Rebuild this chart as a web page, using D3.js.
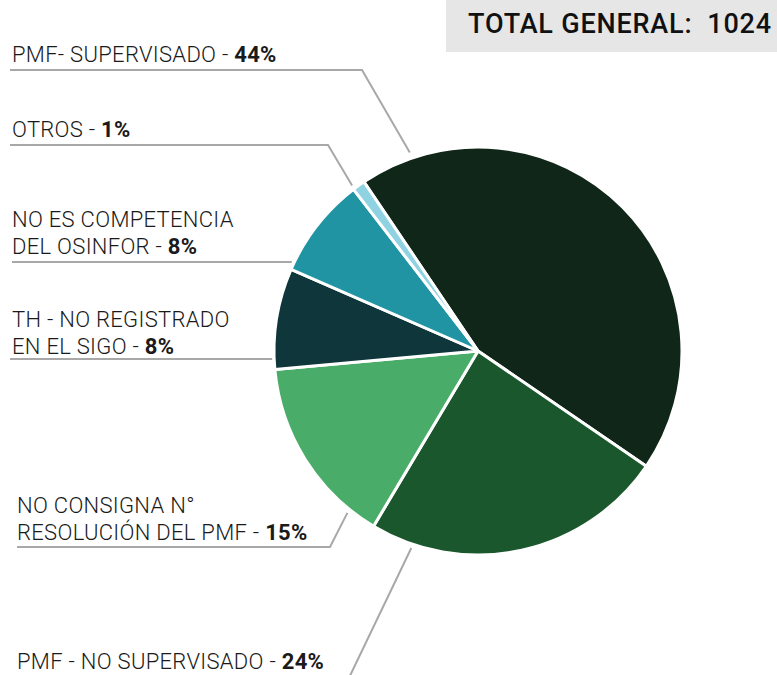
<!DOCTYPE html>
<html>
<head>
<meta charset="utf-8">
<script src="https://cdn.jsdelivr.net/npm/d3@7"></script>
<style>
  html, body { margin: 0; padding: 0; background: #fff; }
  svg { display: block; font-family: Roboto, "Noto Sans", sans-serif; }
</style>
</head>
<body>
<div id="root"></div>
<script>
// Data
var categories = ["PMF- SUPERVISADO", "PMF - NO SUPERVISADO", "NO CONSIGNA N°\nRESOLUCIÓN DEL PMF",
                  "TH - NO REGISTRADO\nEN EL SIGO", "NO ES COMPETENCIA\nDEL OSINFOR", "OTROS"];
var percents = [44, 24, 15, 8, 8, 1];
var colors = ["#0f2618", "#1a572c", "#4aac69", "#0f363a", "#2094a3", "#8fd3e3"];
var totalGeneral = 1024;

// Label placement (layout only)
var labelLayout = [
  {x: 12, y: 62,  underY: 70,  x0: 10, bendX: 362, t: 0.095, r: 210},
  {x: 17, y: 669, underY: 682, x0: 17, bendX: 347, t: 0.86,  r: 208},
  {x: 17, y: 513, underY: 547, x0: 17, bendX: 330, t: 0.15,  r: 208},
  {x: 12, y: 327, underY: 359, x0: 10, bendX: null, t: 0.1,  r: 206},
  {x: 12, y: 227, underY: 262, x0: 12, bendX: null, t: 0.06, r: 206},
  {x: 12, y: 137, underY: 145, x0: 10, bendX: 328, t: 0.1,   r: 208}
];

var width = 777, height = 675;
var cx = 478, cy = 351, radius = 204;
var startAngle = -34 * Math.PI / 180;

var svg = d3.select("#root")
            .append("svg")
            .attr("width", width)
            .attr("height", height);

// Total box
svg.append("rect")
   .attr("x", 446)
   .attr("y", 0)
   .attr("width", width - 446)
   .attr("height", 52)
   .attr("fill", "#e6e6e6");

svg.append("text")
   .attr("x", 468)
   .attr("y", 33)
   .attr("font-size", 27)
   .attr("font-weight", 500)
   .attr("letter-spacing", 0.8)
   .attr("fill", "#111")
   .attr("xml:space", "preserve")
   .text("TOTAL GENERAL:  " + totalGeneral);

var data = categories.map(function (c, i) { return {name: c, value: percents[i], color: colors[i]}; });

var pie = d3.pie()
            .sort(null)
            .value(function (d) { return d.value; })
            .startAngle(startAngle)
            .endAngle(startAngle + 2 * Math.PI);

var arcs = pie(data);

var arc = d3.arc()
            .innerRadius(0)
            .outerRadius(radius);

var g = svg.append("g")
           .attr("transform", "translate(" + cx + "," + cy + ")");

g.selectAll("path.slice")
 .data(arcs)
 .enter().append("path")
 .attr("class", "slice")
 .attr("d", arc)
 .attr("fill", function (d) { return d.data.color; })
 .attr("stroke", "#fff")
 .attr("stroke-width", 3)
 .attr("stroke-linejoin", "round");

// Leader lines
var leaders = svg.append("g");
arcs.forEach(function (a, i) {
  var L = labelLayout[i];
  var ang = a.startAngle + (a.endAngle - a.startAngle) * L.t;
  var ex = cx + L.r * Math.sin(ang);
  var ey = cy - L.r * Math.cos(ang);
  var pts = [[L.x0, L.underY]];
  if (L.bendX !== null) pts.push([L.bendX, L.underY]);
  else ey = L.underY;
  pts.push([ex, ey]);
  leaders.append("path")
         .attr("d", d3.line()(pts))
         .attr("fill", "none")
         .attr("stroke", "#a8a8a8")
         .attr("stroke-width", 2);
});

// Labels
var labels = svg.append("g");
arcs.forEach(function (a, i) {
  var L = labelLayout[i];
  var lines = a.data.name.split("\n");
  var text = labels.append("text")
                   .attr("x", L.x)
                   .attr("y", L.y)
                   .attr("font-size", 22)
                   .attr("letter-spacing", 0.3)
                   .attr("fill", "#1a1a1a")
                   .attr("xml:space", "preserve");
  lines.forEach(function (ln, k) {
    var last = k === lines.length - 1;
    text.append("tspan")
        .attr("x", L.x)
        .attr("dy", k === 0 ? 0 : 27)
        .attr("font-weight", 300)
        .text(last ? ln + " - " : ln);
    if (last) {
      text.append("tspan")
          .attr("font-weight", 700)
          .text(a.data.value + "%");
    }
  });
});
</script>
</body>
</html>
